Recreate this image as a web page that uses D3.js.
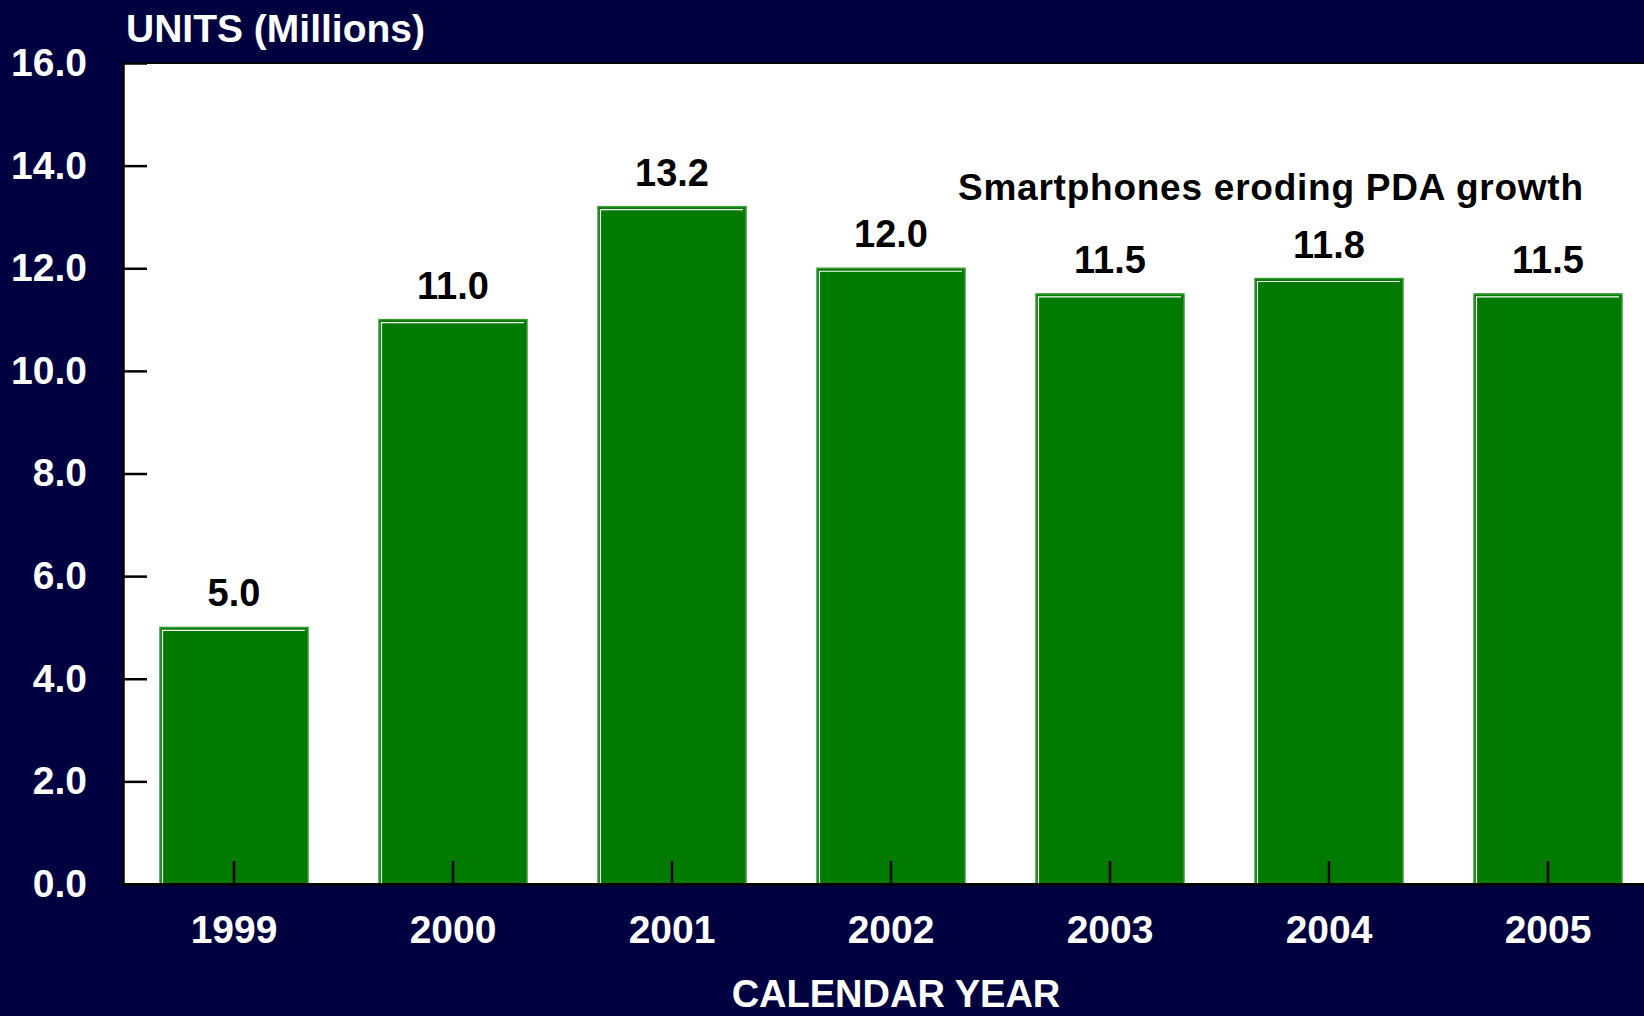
<!DOCTYPE html>
<html>
<head>
<meta charset="utf-8">
<script src="https://cdn.jsdelivr.net/npm/d3@7"></script>
<style>
  html, body { margin: 0; padding: 0; background: #000040; }
  svg { display: block; }
  text { font-family: "Liberation Sans", Arial, sans-serif; font-weight: bold; }
</style>
</head>
<body>
<svg id="chart"></svg>
<script>
// data
const years = ["1999", "2000", "2001", "2002", "2003", "2004", "2005"];
const units = [5.0, 11.0, 13.2, 12.0, 11.5, 11.8, 11.5];
const yTicks = [0, 2, 4, 6, 8, 10, 12, 14, 16];
const yTitle = "UNITS (Millions)";
const xTitle = "CALENDAR YEAR";
const note = "Smartphones eroding PDA growth";

const W = 1644, H = 1016;
const plot = {left: 123, top: 63, bottom: 884};

const svg = d3.select("#chart").attr("width", W).attr("height", H);

svg.append("rect").attr("width", W).attr("height", H).attr("fill", "#000040");

// white plot area
svg.append("rect")
    .attr("x", plot.left).attr("y", plot.top)
    .attr("width", W - plot.left).attr("height", plot.bottom - plot.top)
    .attr("fill", "#ffffff");
svg.append("line")
    .attr("x1", plot.left).attr("x2", W)
    .attr("y1", plot.top).attr("y2", plot.top)
    .attr("stroke", "#000").attr("stroke-width", 2);

const xScale = d3.scaleBand()
    .domain(years)
    .range([124.5, 124.5 + 7 * 219])
    .paddingInner(0.324)
    .paddingOuter(0.162);

const yScale = d3.scaleLinear()
    .domain([0, 16])
    .range([plot.bottom, plot.top]);

const data = years.map((y, i) => ({year: y, value: units[i]}));

// bars
const bars = svg.append("g").selectAll("g.bar")
    .data(data)
  .join("g")
    .attr("class", "bar");

bars.append("rect")
    .attr("x", d => xScale(d.year))
    .attr("y", d => yScale(d.value))
    .attr("width", xScale.bandwidth())
    .attr("height", d => yScale(0) - yScale(d.value))
    .attr("fill", "#007a00")
    .attr("stroke", "#3c9c3c")
    .attr("stroke-width", 1.5);

// white bevel highlight on top and left
bars.append("path")
    .attr("d", d => {
      const x0 = xScale(d.year) + 2.5, y0 = yScale(d.value) + 3;
      return `M${x0},${yScale(0)}V${y0}H${xScale(d.year) + xScale.bandwidth() - 3}`;
    })
    .attr("fill", "none")
    .attr("stroke", "#ffffff")
    .attr("stroke-width", 1.2);

// value labels
bars.append("text")
    .attr("x", d => xScale(d.year) + xScale.bandwidth() / 2)
    .attr("y", d => yScale(d.value) - 21)
    .attr("text-anchor", "middle")
    .attr("font-size", 38)
    .attr("fill", "#000")
    .text(d => d.value.toFixed(1));

// y axis
const yAxis = d3.axisLeft(yScale)
    .tickValues(yTicks)
    .tickFormat(d3.format(".1f"))
    .tickSizeInner(-24)
    .tickSizeOuter(0)
    .tickPadding(36);

const yAxisG = svg.append("g")
    .attr("transform", `translate(${plot.left},0)`)
    .call(yAxis);
yAxisG.select(".domain").attr("stroke", "#000").attr("stroke-width", 2.5);
yAxisG.selectAll(".tick line").attr("stroke", "#000").attr("stroke-width", 2.5);
yAxisG.selectAll(".tick text")
    .attr("fill", "#ffffff")
    .attr("font-size", 39)
    .attr("font-family", "'Liberation Sans', Arial, sans-serif")
    .attr("font-weight", "bold");

// x axis
const xAxis = d3.axisBottom(xScale)
    .tickSizeInner(-23)
    .tickSizeOuter(0)
    .tickPadding(31);

const xAxisG = svg.append("g")
    .attr("transform", `translate(0,${plot.bottom})`)
    .call(xAxis);
xAxisG.select(".domain").attr("stroke", "#000").attr("stroke-width", 3);
xAxisG.selectAll(".tick line").attr("stroke", "#000").attr("stroke-width", 2.5);
xAxisG.selectAll(".tick text")
    .attr("fill", "#ffffff")
    .attr("font-size", 39)
    .attr("font-family", "'Liberation Sans', Arial, sans-serif")
    .attr("font-weight", "bold");

// titles
svg.append("text")
    .attr("x", 126).attr("y", 42)
    .attr("font-size", 39)
    .attr("fill", "#ffffff")
    .text(yTitle);

svg.append("text")
    .attr("x", 896).attr("y", 1007)
    .attr("text-anchor", "middle")
    .attr("font-size", 38)
    .attr("fill", "#ffffff")
    .text(xTitle);

svg.append("text")
    .attr("x", 958).attr("y", 200)
    .attr("font-size", 37)
    .attr("fill", "#000")
    .attr("textLength", 625)
    .attr("lengthAdjust", "spacing")
    .text(note);
</script>
</body>
</html>
